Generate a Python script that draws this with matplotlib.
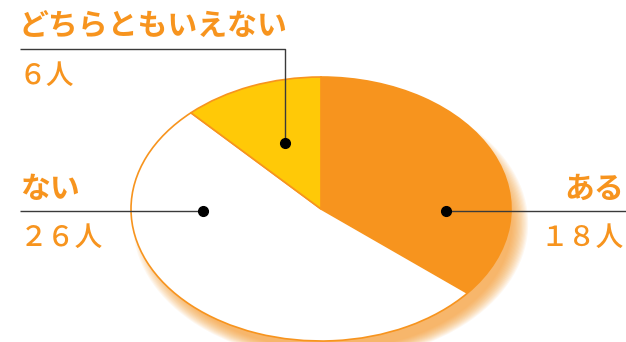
import numpy as np
import matplotlib.pyplot as plt
from matplotlib.patches import Circle

plt.rcParams['font.family'] = ['Noto Sans CJK JP', 'DejaVu Sans']

# data
labels = ['ある', 'ない', 'どちらともいえない']
counts = [18, 26, 6]
count_labels = ['１８人', '２６人', '６人']
colors = ['#F7941E', '#FFFFFF', '#FFC907']

ORANGE = '#F7941E'
LINE = '#3a3a3a'

# pixel geometry of the ellipse in the 626x342 picture
CX, CY, RX, RY = 321, 209, 190, 132
W, H = 626, 342


def px(x, y):
    # pixel (from top-left) -> data units of the unit-circle pie
    return (x - CX) / RX, (CY - y) / RY


fig = plt.figure(figsize=(6.26, 3.42), dpi=100)
ax = fig.add_axes([0, 0, 1, 1])

# soft shadow behind the pie (offset right / down)
n = 14
for i in range(n):
    r = 0.95 + 0.09 * (i + 1) / n
    ax.add_patch(Circle((0.05, -0.11), r, facecolor=ORANGE, edgecolor='none',
                        alpha=0.07, zorder=0))

wedges, _ = ax.pie(counts, colors=colors, startangle=90, counterclock=False,
                   radius=1, center=(0, 0),
                   wedgeprops=dict(edgecolor=ORANGE, linewidth=1.2))
for w in wedges:
    w.set_zorder(2)

ax.set_aspect('auto')
ax.set_xlim(px(0, 0)[0], px(W, 0)[0])
ax.set_ylim(px(0, H)[1], px(0, 0)[1])
ax.axis('off')

# leader lines and dots
lines = [
    [(446, 211), (626, 211)],
    [(203, 211), (20, 211)],
    [(285, 143), (285, 49), (20, 49)],
]
for pts in lines:
    xs, ys = zip(*[px(*p) for p in pts])
    ax.plot(xs, ys, color=LINE, lw=1.0, zorder=3, solid_capstyle='butt')
    ax.plot(xs[0], ys[0], 'o', color='black', ms=7, zorder=4)

# labels
label_pos = [((624, 189), (624, 237), 'right'),
             ((20, 189), (20, 237), 'left'),
             ((19, 27), (19, 75), 'left')]
for name, cnt, (p1, p2, ha) in zip(labels, count_labels, label_pos):
    ax.text(*px(*p1), name, color=ORANGE, fontsize=21.5, fontweight='bold',
            ha=ha, va='center', zorder=5)
    ax.text(*px(*p2), cnt, color=ORANGE, fontsize=20, fontweight='medium',
            ha=ha, va='center', zorder=5)

fig.savefig('out.png', dpi=100)
